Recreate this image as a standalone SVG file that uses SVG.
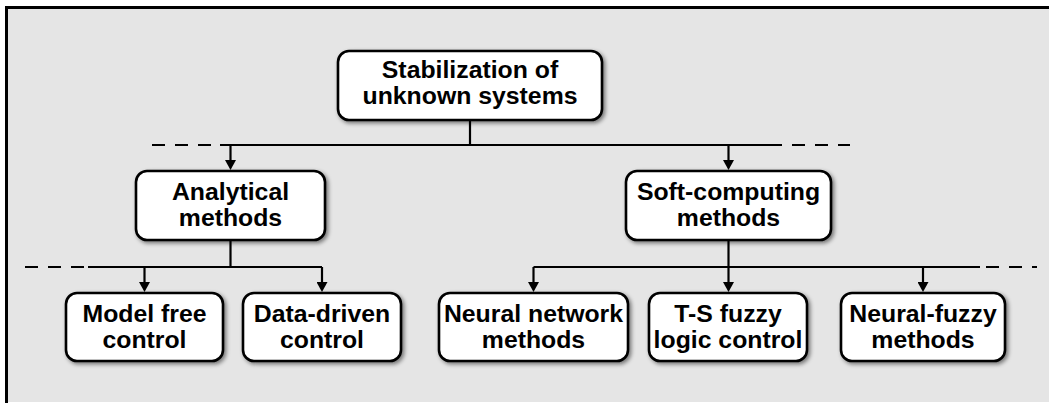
<svg xmlns="http://www.w3.org/2000/svg" width="1049" height="403" viewBox="0 0 1049 403">
  <defs>
    <filter id="shadow" x="-10%" y="-20%" width="125%" height="150%">
      <feGaussianBlur in="SourceAlpha" stdDeviation="2"/>
      <feOffset dx="2" dy="2" result="blur"/>
      <feComponentTransfer><feFuncA type="linear" slope="0.5"/></feComponentTransfer>
      <feMerge><feMergeNode/><feMergeNode in="SourceGraphic"/></feMerge>
    </filter>
    <marker id="arrow" markerWidth="11" markerHeight="11" refX="7" refY="5.5" orient="auto" markerUnits="userSpaceOnUse">
      <path d="M0,0 L10,5.5 L0,11 z" fill="#000"/>
    </marker>
    <style>
      .box { fill: #fff; stroke: #000; stroke-width: 2.6; filter: url(#shadow); }
      .lbl { font-family: "Liberation Sans", Arial, sans-serif; font-weight: bold; font-size: 24.8px; fill: #000; text-anchor: middle; }
      .wire { stroke: #000; stroke-width: 2.2; fill: none; }
      .dash { stroke: #000; stroke-width: 2.2; fill: none; stroke-dasharray: 13 10; }
      .arr { stroke: #000; stroke-width: 2.2; fill: none; marker-end: url(#arrow); }
    </style>
  </defs>

  <!-- panel background and frame -->
  <rect x="0" y="0" width="1049" height="403" fill="#fff"/>
  <rect x="7" y="8" width="1042" height="394" fill="#e5e5e5"/>
  <line x1="5" y1="7.5" x2="1049" y2="7.5" stroke="#000" stroke-width="3"/>
  <line x1="6.5" y1="6" x2="6.5" y2="403" stroke="#000" stroke-width="3"/>

  <!-- connectors -->
  <g id="connectors">
    <!-- root to level 1 -->
    <line class="wire" x1="470" y1="120" x2="470" y2="145"/>
    <line class="dash" x1="152" y1="145" x2="214" y2="145"/>
    <line class="wire" x1="220" y1="145" x2="782" y2="145"/>
    <line class="dash" x1="792" y1="145" x2="850" y2="145"/>
    <line class="arr" x1="230.5" y1="145" x2="230.5" y2="167"/>
    <line class="arr" x1="728.5" y1="145" x2="728.5" y2="167"/>

    <!-- analytical branch -->
    <line class="wire" x1="230.5" y1="240" x2="230.5" y2="267"/>
    <line class="dash" x1="25" y1="267" x2="86" y2="267"/>
    <line class="wire" x1="88" y1="267" x2="322" y2="267"/>
    <line class="arr" x1="144.5" y1="267" x2="144.5" y2="289"/>
    <line class="arr" x1="322" y1="267" x2="322" y2="289"/>

    <!-- soft-computing branch -->
    <line class="wire" x1="728.5" y1="240" x2="728.5" y2="267"/>
    <line class="wire" x1="533.5" y1="267" x2="980" y2="267"/>
    <line class="dash" x1="986" y1="267" x2="1037" y2="267"/>
    <line class="arr" x1="533.5" y1="267" x2="533.5" y2="289"/>
    <line class="arr" x1="728.5" y1="267" x2="728.5" y2="289"/>
    <line class="arr" x1="923" y1="267" x2="923" y2="289"/>
  </g>

  <!-- root -->
  <g id="root">
    <rect class="box" x="338" y="51" width="264" height="69" rx="11"/>
    <text class="lbl" x="470" y="77.5">Stabilization of</text>
    <text class="lbl" x="470" y="104">unknown systems</text>
  </g>

  <!-- level 1 -->
  <g id="analytical">
    <rect class="box" x="136" y="171" width="189" height="69" rx="11"/>
    <text class="lbl" x="230.5" y="199.5">Analytical</text>
    <text class="lbl" x="230.5" y="226">methods</text>
  </g>
  <g id="soft-computing">
    <rect class="box" x="626" y="171" width="205" height="69" rx="11"/>
    <text class="lbl" x="728.5" y="199.5">Soft-computing</text>
    <text class="lbl" x="728.5" y="226">methods</text>
  </g>

  <!-- level 2 -->
  <g id="model-free">
    <rect class="box" x="66" y="293" width="157" height="68" rx="11"/>
    <text class="lbl" x="144.5" y="321.5">Model free</text>
    <text class="lbl" x="144.5" y="348">control</text>
  </g>
  <g id="data-driven">
    <rect class="box" x="243" y="293" width="158" height="68" rx="11"/>
    <text class="lbl" x="322" y="321.5">Data-driven</text>
    <text class="lbl" x="322" y="348">control</text>
  </g>
  <g id="neural-network">
    <rect class="box" x="439" y="293" width="189" height="68" rx="11"/>
    <text class="lbl" x="533.5" y="321.5">Neural network</text>
    <text class="lbl" x="533.5" y="348">methods</text>
  </g>
  <g id="ts-fuzzy">
    <rect class="box" x="649" y="293" width="158" height="68" rx="11"/>
    <text class="lbl" x="728" y="321.5">T-S fuzzy</text>
    <text class="lbl" x="728" y="348">logic control</text>
  </g>
  <g id="neural-fuzzy">
    <rect class="box" x="841" y="293" width="164" height="68" rx="11"/>
    <text class="lbl" x="923" y="321.5">Neural-fuzzy</text>
    <text class="lbl" x="923" y="348">methods</text>
  </g>
</svg>
